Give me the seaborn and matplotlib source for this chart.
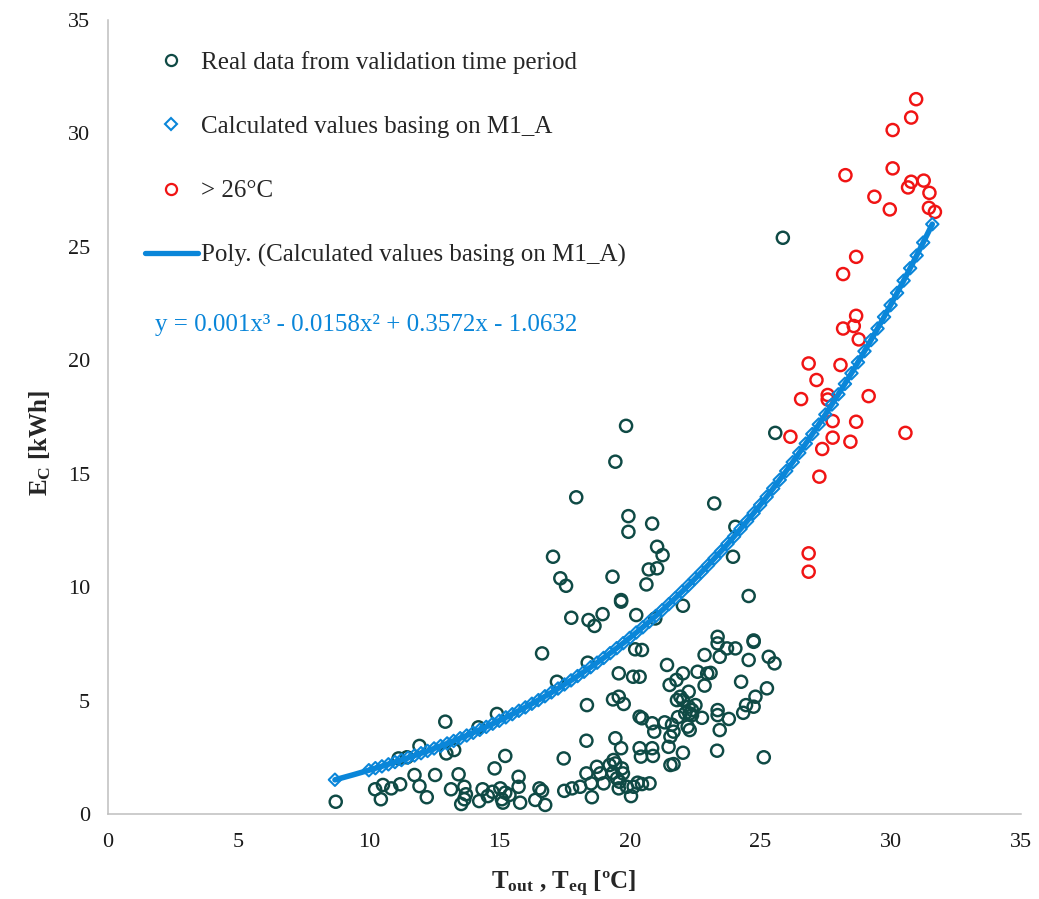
import numpy as np
import pandas as pd
import matplotlib
matplotlib.use("Agg")
import matplotlib.pyplot as plt
from matplotlib.lines import Line2D
import seaborn as sns

# ---- measured data: real consumption (T_out, E_C) ----
real_t = [
    8.73, 10.24, 10.54, 10.46, 10.86, 11.20, 11.14, 11.46, 11.75, 11.94, 12.22, 11.94,
    12.54, 12.93, 12.97, 13.27, 13.15, 13.44, 13.66, 13.66, 13.54, 13.72, 14.20, 14.23,
    14.36, 14.56, 14.74, 14.91, 14.82, 15.23, 15.04, 15.10, 15.14, 15.39, 15.74, 15.74,
    15.80,
    17.76, 18.42, 18.65, 18.96, 19.67, 20.25, 22.04, 16.64, 17.21, 18.39, 20.21, 20.47,
    19.58, 20.13, 20.38, 21.43, 22.04, 21.53, 21.79, 22.26, 21.94, 19.36, 19.58, 19.77,
    18.36, 20.38, 20.47, 20.86, 20.94, 21.34, 21.62, 21.85, 22.13, 22.39, 21.81, 22.04,
    22.26, 22.52, 21.56, 21.68, 22.30, 22.04, 21.56, 21.68, 18.34, 19.45, 19.67, 20.38,
    20.86, 20.43, 20.89, 17.47, 15.23, 16.38, 16.54, 16.64, 16.76, 17.49, 17.79, 18.10,
    18.34, 18.52, 18.55, 18.74, 18.87, 19.00, 19.23, 19.36, 19.45, 19.51, 19.61, 19.74,
    19.89, 20.05, 20.15, 20.30, 20.47, 20.76, 19.58, 19.70, 19.38,
    19.86, 19.45, 17.95, 19.95, 19.95, 20.86, 21.05, 21.26, 20.73, 21.05, 20.64, 17.06,
    17.34, 17.56, 19.34, 19.67, 20.98,
    23.24, 24.05, 23.96, 24.56, 23.37, 23.37, 23.73, 24.05, 24.75, 24.75, 23.45, 24.56,
    25.33, 25.55, 22.87, 22.60, 22.97, 23.10, 22.87, 24.27, 25.26, 24.82, 24.46, 24.75,
    24.35, 23.37, 23.37, 23.80, 23.45, 23.35, 25.14, 22.39, 22.77, 22.30, 22.22, 21.49,
    25.87, 25.58,
]
real_e = [
    0.54, 1.09, 1.28, 0.65, 1.13, 1.31, 2.45, 2.50, 1.72, 1.23, 0.74, 3.00,
    1.72, 4.07, 2.67, 2.82, 1.09, 1.75, 1.20, 0.65, 0.44, 0.87, 3.82, 0.57,
    1.09, 0.79, 0.98, 4.41, 2.01, 2.56, 1.13, 0.65, 0.50, 0.84, 1.64, 1.20,
    0.50,
    8.65, 8.55, 8.29, 8.81, 9.36, 8.77, 9.18, 7.08, 5.83, 6.67, 7.26, 7.23,
    6.20, 6.05, 6.05, 6.57, 6.20, 5.69, 5.91, 5.39, 5.17, 5.05, 5.17, 4.85,
    4.80, 4.29, 4.22, 4.00, 3.63, 4.04, 3.94, 4.27, 4.44, 4.36, 5.02, 5.02,
    4.73, 4.80, 3.41, 3.63, 3.70, 2.70, 2.16, 2.20, 3.23, 3.34, 2.90, 2.90,
    2.90, 2.53, 2.56, 2.45, 0.94, 0.62, 1.13, 1.02, 0.40, 1.02, 1.13, 1.20,
    1.79, 1.35, 0.74, 2.08, 1.79, 1.35, 2.16, 1.82, 2.23, 1.57, 1.42, 1.79,
    1.20, 0.79, 1.20, 1.38, 1.32, 1.35, 1.13, 2.01, 2.38,
    17.11, 15.53, 13.96, 13.13, 12.44, 12.80, 11.78, 11.41, 10.78, 10.83, 10.12, 11.34,
    10.39, 10.06, 10.46, 9.43, 8.62,
    13.69, 12.66, 11.34, 9.61, 7.81, 7.52, 7.30, 7.30, 7.59, 7.65, 6.93, 6.79,
    6.93, 6.64, 7.01, 6.27, 6.19, 6.22, 5.66, 5.83, 5.54, 5.17, 4.80, 4.73,
    4.46, 4.58, 4.36, 4.19, 3.70, 2.79, 2.50, 4.58, 4.24, 4.43, 3.85, 2.96,
    25.40, 16.80,
]

# ---- days above 26 degC ----
hot_t = [
    30.98, 30.79, 30.08, 28.27, 30.08, 30.79, 30.67, 31.27, 31.49, 29.38, 29.97, 31.47,
    31.70, 28.68, 28.18, 28.68, 28.59, 28.18, 28.78, 26.86, 28.08, 27.16, 26.57, 27.59,
    27.59, 29.16, 27.78, 28.68, 26.16, 27.78, 28.46, 30.57, 27.38, 27.27, 26.86, 26.86,
]
hot_e = [
    31.51, 30.70, 30.15, 28.16, 28.46, 27.87, 27.62, 27.92, 27.38, 27.21, 26.65, 26.72,
    26.54, 24.56, 23.80, 21.96, 21.51, 21.40, 20.92, 19.86, 19.79, 19.13, 18.29, 18.47,
    18.27, 18.42, 17.32, 17.29, 16.63, 16.59, 16.41, 16.80, 16.09, 14.87, 11.49, 10.68,
]

# ---- model M1_A output (T_eq, calculated E_C) ----
calc_t = [
    8.70, 10.00, 10.25, 10.50, 10.75, 11.00, 11.25, 11.50, 11.75, 12.00, 12.25, 12.50,
    12.75, 13.00, 13.25, 13.50, 13.75, 14.00, 14.25, 14.50, 14.75, 15.00, 15.25, 15.50,
    15.75, 16.00, 16.25, 16.50, 16.75, 17.00, 17.25, 17.50, 17.75, 18.00, 18.25, 18.50,
    18.75, 19.00, 19.25, 19.50, 19.75, 20.00, 20.25, 20.50, 20.75, 21.00, 21.25, 21.50,
    21.75, 22.00, 22.25, 22.50, 22.75, 23.00, 23.25, 23.50, 23.75, 24.00, 24.25, 24.50,
    24.75, 25.00, 25.25, 25.50, 25.75, 26.00, 26.25, 26.50, 26.75, 27.00, 27.25, 27.50,
    27.75, 28.00, 28.25, 28.50, 28.75, 29.00, 29.25, 29.50, 29.75, 30.00, 30.25, 30.50,
    30.75, 31.00, 31.25, 31.60,
]
calc_e = [
    1.51, 1.93, 2.02, 2.10, 2.19, 2.29, 2.38, 2.48, 2.58, 2.68, 2.78, 2.89,
    3.00, 3.11, 3.22, 3.34, 3.46, 3.58, 3.71, 3.84, 3.98, 4.11, 4.26, 4.40,
    4.55, 4.70, 4.86, 5.02, 5.19, 5.36, 5.53, 5.71, 5.89, 6.08, 6.27, 6.47,
    6.67, 6.88, 7.09, 7.31, 7.53, 7.76, 8.00, 8.23, 8.48, 8.73, 8.99, 9.25,
    9.52, 9.80, 10.08, 10.37, 10.66, 10.96, 11.27, 11.58, 11.91, 12.23, 12.57, 12.91,
    13.26, 13.62, 13.98, 14.35, 14.73, 15.12, 15.51, 15.92, 16.33, 16.75, 17.17, 17.61,
    18.05, 18.50, 18.96, 19.43, 19.91, 20.40, 20.89, 21.40, 21.91, 22.43, 22.97, 23.51,
    24.06, 24.62, 25.19, 26.00,
]

# cubic trend of the model values (coefficients as printed on the chart)
trend_coef = [0.001, -0.0158, 0.3572, -1.0632]
trend_label = "y = 0.001x³ - 0.0158x² + 0.3572x - 1.0632"

x_ticks = [0, 5, 10, 15, 20, 25, 30, 35]
y_ticks = [0, 5, 10, 15, 20, 25, 30, 35]

GREEN = "#0f4a45"
RED = "#f01414"
BLUE = "#0a86d9"
GREY = "#bfbfbf"

sns.set_style("white")
plt.rcParams["font.family"] = ["Liberation Serif", "DejaVu Serif"]
plt.rcParams["mathtext.fontset"] = "custom"
plt.rcParams["mathtext.rm"] = "Liberation Serif"
plt.rcParams["mathtext.bf"] = "Liberation Serif:bold"
plt.rcParams["mathtext.it"] = "Liberation Serif:italic"

W, H = 1039, 899
fig = plt.figure(figsize=(W / 100, H / 100), dpi=100)
ax = fig.add_axes([108 / W, (H - 814) / H, 913 / W, 794 / H])

real_df = pd.DataFrame({"t": real_t, "e": real_e})
hot_df = pd.DataFrame({"t": hot_t, "e": hot_e})
calc_df = pd.DataFrame({"t": calc_t, "e": calc_e})

trend_x = np.linspace(min(calc_t), max(calc_t), 300)
trend_df = pd.DataFrame({"t": trend_x, "e": np.polyval(trend_coef, trend_x)})

sns.scatterplot(data=real_df, x="t", y="e", ax=ax, marker="o", s=76,
                facecolors="none", edgecolor=GREEN, linewidth=1.75, zorder=3)
sns.scatterplot(data=hot_df, x="t", y="e", ax=ax, marker="o", s=76,
                facecolors="none", edgecolor=RED, linewidth=1.75, zorder=3)
sns.scatterplot(data=calc_df, x="t", y="e", ax=ax, marker="D", s=40,
                facecolors="none", edgecolor=BLUE, linewidth=1.5, zorder=4)
sns.lineplot(data=trend_df, x="t", y="e", ax=ax, color=BLUE, linewidth=4.0,
             zorder=5, sort=False)

ax.set_xlim(0, 35)
ax.set_ylim(0, 35)
ax.set_xticks(x_ticks)
ax.set_yticks(y_ticks)
ax.set_xticklabels([str(v) for v in x_ticks])
ax.set_yticklabels([str(v) for v in y_ticks])
ax.tick_params(axis="both", length=0, labelsize=16, colors="#1a1a1a")
ax.tick_params(axis="y", pad=13)
ax.tick_params(axis="x", pad=14)

for side in ("top", "right"):
    ax.spines[side].set_visible(False)
for side in ("left", "bottom"):
    ax.spines[side].set_color(GREY)
    ax.spines[side].set_linewidth(1.1)
ax.grid(False)

ax.set_xlabel(r"$\mathbf{T}_{\mathbf{out}}$ , $\mathbf{T}_{\mathbf{eq}}$ [ºC]",
              fontsize=18, fontweight="bold", va="center", ha="center")
ax.xaxis.set_label_coords((563 - 108) / 913, (814 - 884) / 794)
ax.set_ylabel(r"$\mathbf{E}_{\mathbf{C}}$ [kWh]",
              fontsize=18, fontweight="bold", va="center", ha="center")
ax.yaxis.set_label_coords((40 - 108) / 913, (814 - 443) / 794)

handles = [
    Line2D([], [], ls="none", marker="o", ms=8, mfc="none", mec=GREEN, mew=1.6),
    Line2D([], [], ls="none", marker="D", ms=6, mfc="none", mec=BLUE, mew=1.5),
    Line2D([], [], ls="none", marker="o", ms=8, mfc="none", mec=RED, mew=1.6),
    Line2D([], [], color=BLUE, lw=3.8),
]
labels = [
    "Real data from validation time period",
    "Calculated values basing on M1_A",
    "> 26°C",
    "Poly. (Calculated values basing on M1_A)",
]
leg = ax.legend(handles, labels, loc="upper left",
                bbox_to_anchor=((145 - 108) / 913, (814 - 51) / 794),
                frameon=False, fontsize=18, labelspacing=1.67,
                handlelength=2.1, handletextpad=0.15, borderpad=0,
                borderaxespad=0)

ax.text((155 - 108) / 913, (814 - 325) / 794, trend_label, transform=ax.transAxes,
        color=BLUE, fontsize=18, ha="left", va="center")

fig.savefig("out.png", dpi=100)
